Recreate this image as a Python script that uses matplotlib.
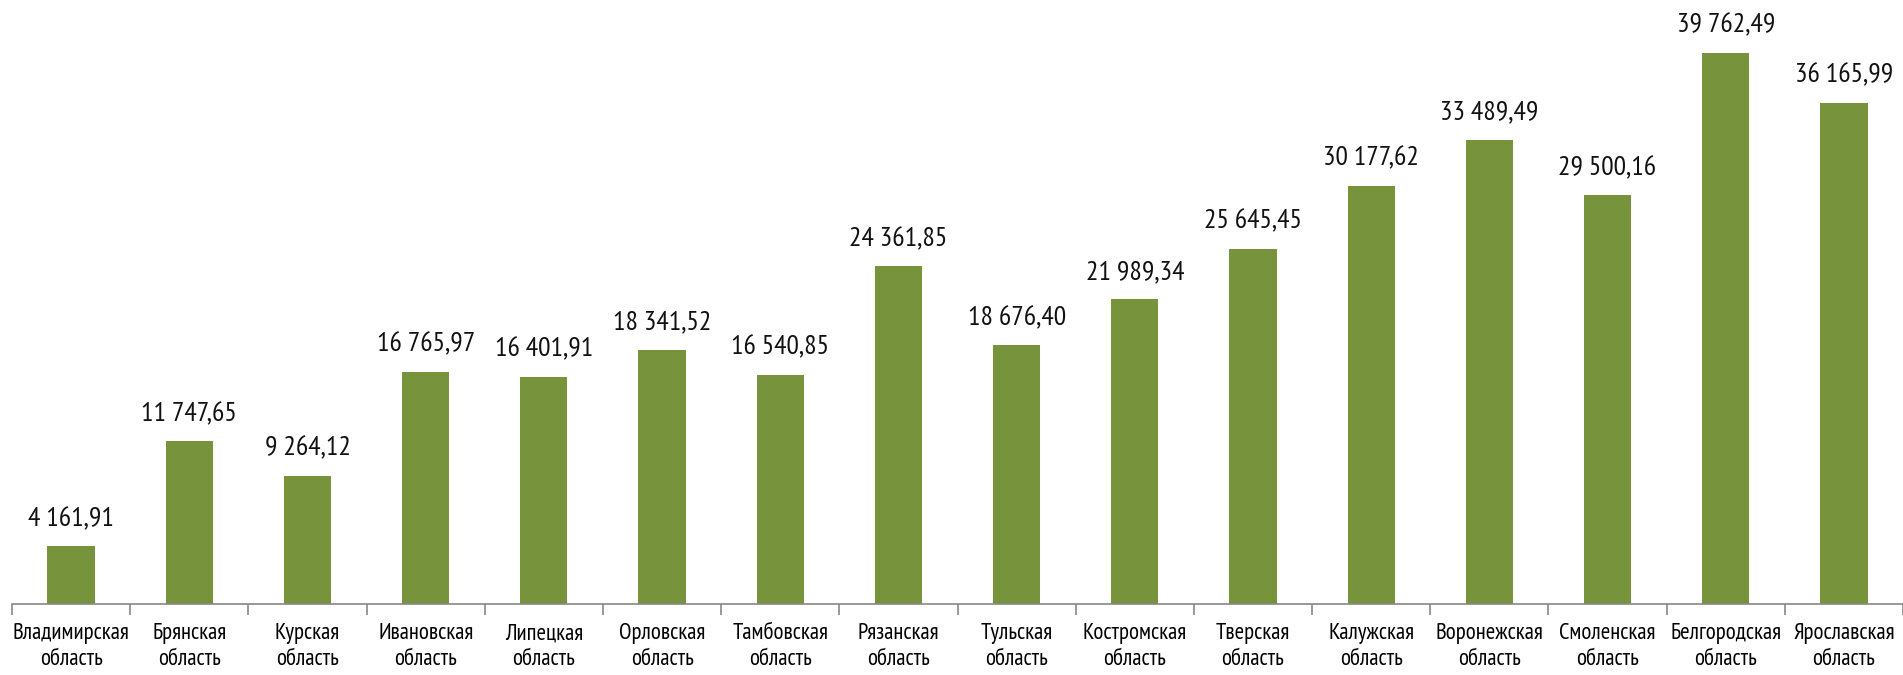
import matplotlib
matplotlib.use('Agg')
from matplotlib import pyplot as plt
import numpy as np

regions = ['Владимирская\nобласть', 'Брянская\nобласть', 'Курская\nобласть', 'Ивановская\nобласть',
           'Липецкая\nобласть', 'Орловская\nобласть', 'Тамбовская\nобласть', 'Рязанская\nобласть',
           'Тульская\nобласть', 'Костромская\nобласть', 'Тверская\nобласть', 'Калужская\nобласть',
           'Воронежская\nобласть', 'Смоленская\nобласть', 'Белгородская\nобласть', 'Ярославская\nобласть']
values = [4161.91, 11747.65, 9264.12, 16765.97, 16401.91, 18341.52, 16540.85, 24361.85,
          18676.40, 21989.34, 25645.45, 30177.62, 33489.49, 29500.16, 39762.49, 36165.99]

plt.rcParams['font.family'] = ['PT Sans Narrow', 'DejaVu Sans']
plt.rcParams['font.stretch'] = 'condensed'


def fmt(v):
    s = f"{v:,.2f}"
    return s.replace(',', ' ').replace('.', ',')


fig = plt.figure(figsize=(19.03, 6.75), dpi=100)
ax = fig.add_axes([12 / 1903, 71 / 675, 1 - 12 / 1903, 604 / 675])

x = np.arange(len(values))
bars = ax.bar(x, values, width=0.4, color='#77933C')
for b, v in zip(bars, values):
    ax.text(b.get_x() + b.get_width() / 2, v + 1100, fmt(v), ha='center', va='bottom',
            fontsize=20, color='#111111')

ax.set_xlim(-0.5, len(values) - 0.5)
ax.set_ylim(0, 43590)
ax.set_xticks(np.arange(-0.5, len(values), 1.0))
ax.set_xticklabels([])
ax.set_xticks(x, minor=True)
ax.set_xticklabels(regions, minor=True, fontsize=16.5, linespacing=1.3)
ax.tick_params(axis='x', which='minor', length=0, pad=14)
ax.tick_params(axis='x', which='major', length=8, color='#888888', width=1.2)
ax.set_yticks([])
for side in ['top', 'right', 'left']:
    ax.spines[side].set_visible(False)
ax.spines['bottom'].set_color('#888888')
ax.spines['bottom'].set_linewidth(1.2)

fig.savefig('out.png', dpi=100)
